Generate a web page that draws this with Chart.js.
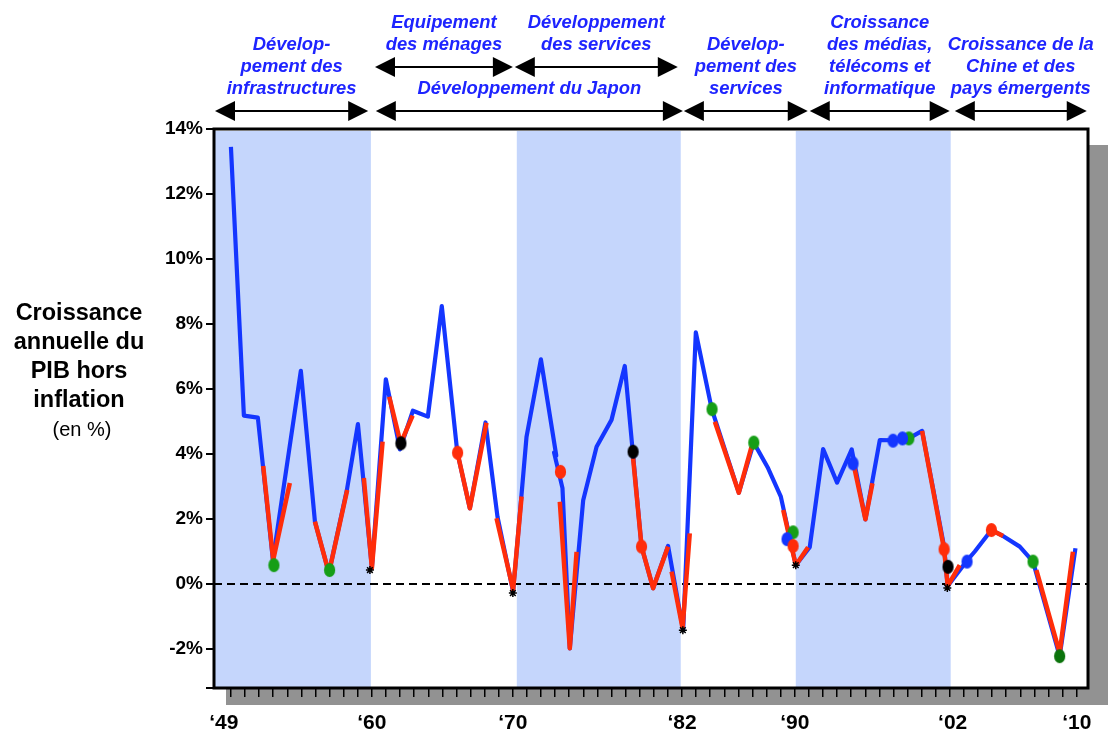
<!DOCTYPE html>
<html>
<head>
<meta charset="utf-8">
<script src="https://cdn.jsdelivr.net/npm/chart.js@4.4.0/dist/chart.umd.min.js"></script>
<style>
  html, body { margin: 0; padding: 0; background: #fff; }
</style>
</head>
<body>
<canvas id="gdpChart" width="1108" height="731"></canvas>
<script>
// ---------------------------------------------------------------------------
// Data (x in years, y in % annual growth)
// ---------------------------------------------------------------------------

// main growth line (blue)
const blueYears = [1950.00, 1950.92, 1951.91, 1952.98, 1954.96, 1955.96, 1956.95, 1958.23, 1959.01, 1960.00,
  1960.99, 1961.99, 1962.91, 1963.97, 1964.96, 1966.06, 1966.95, 1968.06, 1968.91, 1970.02,
  1970.97, 1971.99, 1973.08, 1972.92, 1973.52, 1974.04, 1974.99, 1975.94, 1977.00, 1977.94, 1979.13,
  1979.95, 1981.01, 1982.08, 1982.98, 1984.11, 1986.03, 1987.09, 1988.11, 1989.01, 1990.07,
  1991.06, 1992.01, 1993.00, 1994.04, 1995.01, 1996.03, 1996.97, 1998.09, 1999.03, 2000.57,
  2000.85, 2002.20, 2002.77, 2003.95, 2004.77, 2005.96, 2006.90, 2008.79, 2009.91];
const blueValues = [13.45, 5.18, 5.12, 0.74, 6.56, 1.92, 0.34, 2.90, 4.92, 0.50,
  6.30, 4.14, 5.33, 5.15, 8.55, 4.05, 2.33, 4.97, 2.07, -0.24,
  4.53, 6.91, 3.95, 4.05, 2.95, -1.98, 2.58, 4.22, 5.05, 6.71, 1.15,
  -0.13, 1.17, -1.42, 7.74, 5.38, 2.81, 4.35, 3.56, 2.69, 0.58,
  1.13, 4.15, 3.12, 4.14, 1.99, 4.43, 4.42, 4.48, 4.71, 1.20,
  -0.06, 0.71, 1.00, 1.66, 1.48, 1.15, 0.69, -2.22, 1.10];

// slowdown segments drawn over the line (red), one small array per segment
const redYears = [
  [1952.29, 1953.00, 1954.18], [1955.96, 1956.95, 1958.25], [1959.43, 1960.00, 1960.76],
  [1961.23, 1962.04, 1962.89], [1966.08, 1966.95, 1968.13], [1968.84, 1970.02, 1970.62],
  [1973.33, 1974.04, 1974.52], [1978.53, 1979.13, 1979.95, 1981.01], [1981.26, 1982.04, 1982.55],
  [1984.33, 1986.03, 1986.93], [1989.18, 1990.07, 1990.94], [1994.18, 1995.01, 1995.51],
  [1999.03, 2000.59, 2000.85, 2001.70], [2003.95, 2004.77], [2007.14, 2008.79, 2009.73]];
const redValues = [
  [3.63, 0.74, 3.11], [1.92, 0.34, 2.89], [3.26, 0.49, 4.38],
  [5.76, 4.33, 5.18], [4.02, 2.33, 4.96], [2.02, -0.18, 2.69],
  [2.53, -1.98, 0.99], [3.87, 1.15, -0.13, 1.15], [0.38, -1.36, 1.56],
  [4.99, 2.81, 4.22], [2.28, 0.58, 1.13], [3.66, 1.99, 3.10],
  [4.71, 1.07, -0.06, 0.58], [1.66, 1.48], [0.43, -2.12, 0.99]];

// coloured markers
const greenYears = [1953.05, 1957.00, 1984.13, 1987.09, 1989.88, 1998.09, 2006.90, 2008.79];
const greenValues = [0.58, 0.43, 5.38, 4.35, 1.59, 4.48, 0.69, -2.22];
const blackYears = [1962.06, 1978.53, 2000.87];
const blackValues = [4.33, 4.07, 0.53];
const redDotYears = [1966.08, 1973.38, 1979.13, 1989.88, 2000.59, 2003.95];
const redDotValues = [4.04, 3.45, 1.15, 1.17, 1.07, 1.66];
const blueDotYears = [1989.45, 1994.13, 1996.97, 1997.64, 2002.22];
const blueDotValues = [1.38, 3.71, 4.41, 4.48, 0.69];

// recession troughs (asterisks)
const troughYears = [1959.86, 1970.00, 1982.06, 1990.07, 2000.82];
const troughValues = [0.43, -0.28, -1.42, 0.58, -0.12];

// shaded periods
const bandStart = [1948.8, 1970.28, 1990.07];
const bandEnd = [1959.93, 1981.91, 2001.06];

// axis ticks
const xLabels = ['\u201849', '\u201860', '\u201870', '\u201882', '\u201890', '\u201802', '\u201810'];
const xLabelYears = [1949.5, 1960, 1970, 1982, 1990, 2001.2, 2010];
const tickYears = Array.from({ length: 61 }, (_, i) => 1950 + i);
const xMin = 1948.8;
const xMax = 2010.8;
const yMin = -3.2;
const yMax = 14;

// period annotations above the chart
const periodLabels = [
  ['Dévelop-', 'pement des', 'infrastructures'],
  ['Développement du Japon'],
  ['Dévelop-', 'pement des', 'services'],
  ['Croissance', 'des médias,', 'télécoms et', 'informatique'],
  ['Croissance de la', 'Chine et des', 'pays émergents'],
  ['Equipement', 'des ménages'],
  ['Développement', 'des services']];
const periodFrom = [1948.87, 1960.28, 1982.13, 1991.06, 2001.35, 1960.22, 1970.14];
const periodTo = [1959.74, 1982.06, 1990.92, 2000.99, 2010.71, 1970.0, 1981.7];
const periodRow = [0, 0, 0, 0, 0, 1, 1];

const yTitleLines = ['Croissance', 'annuelle du', 'PIB hors', 'inflation'];
const yTitleUnit = '(en %)';

// ---------------------------------------------------------------------------
// Helpers
// ---------------------------------------------------------------------------
const FONT = '"Liberation Sans", Arial, Helvetica, sans-serif';
const toPoints = (xs, ys) => xs.map((x, i) => ({ x: x, y: ys[i] }));

// oval markers, a little taller than wide
const ovalStyle = (color) => {
  const c = document.createElement('canvas');
  c.width = 13;
  c.height = 16;
  const g = c.getContext('2d');
  g.fillStyle = color;
  g.beginPath();
  g.ellipse(6.5, 8, 5.6, 7, 0, 0, Math.PI * 2);
  g.fill();
  return c;
};

const redPoints = redYears.flatMap((seg, s) => [
  ...seg.map((x, i) => ({ x: x, y: redValues[s][i] })),
  { x: seg[seg.length - 1], y: null }
]);

const greenOval = ovalStyle('#169e16');
const greenDark = ovalStyle('#0b730b');

// ---------------------------------------------------------------------------
// Plugins: backdrop, shaded periods, frame, annotations
// ---------------------------------------------------------------------------
const backdrop = {
  id: 'backdrop',
  beforeDraw(chart) {
    const { ctx, chartArea: a, width, height } = chart;
    ctx.save();
    ctx.fillStyle = '#fff';
    ctx.fillRect(0, 0, width, height);
    // drop shadow of the plot box
    ctx.fillStyle = '#929292';
    ctx.fillRect(a.left + 12, a.top + 16, a.right - a.left + 40, a.bottom - a.top + 1);
    ctx.restore();
  },
  beforeDatasetsDraw(chart) {
    const { ctx, chartArea: a, scales } = chart;
    ctx.save();
    ctx.fillStyle = '#fff';
    ctx.fillRect(a.left, a.top, a.right - a.left, a.bottom - a.top);
    ctx.fillStyle = '#c5d6fc';
    bandStart.forEach((s, i) => {
      const x1 = scales.x.getPixelForValue(s);
      const x2 = scales.x.getPixelForValue(bandEnd[i]);
      ctx.fillRect(x1, a.top + 2, x2 - x1, a.bottom - a.top - 2);
    });
    ctx.restore();
  },
  afterDatasetsDraw(chart) {
    const { ctx, chartArea: a } = chart;
    ctx.save();
    ctx.strokeStyle = '#000';
    ctx.lineWidth = 3;
    ctx.strokeRect(a.left, a.top, a.right - a.left, a.bottom - a.top);
    ctx.restore();
  }
};

const annotations = {
  id: 'annotations',
  afterDraw(chart) {
    const { ctx, scales } = chart;
    const rowY = [111, 67];
    ctx.save();
    periodFrom.forEach((from, i) => {
      const x1 = scales.x.getPixelForValue(from);
      const x2 = scales.x.getPixelForValue(periodTo[i]);
      const y = rowY[periodRow[i]];
      ctx.strokeStyle = '#000';
      ctx.lineWidth = 2;
      ctx.beginPath();
      ctx.moveTo(x1 + 15, y);
      ctx.lineTo(x2 - 15, y);
      ctx.stroke();
      ctx.fillStyle = '#000';
      ctx.beginPath();
      ctx.moveTo(x1, y); ctx.lineTo(x1 + 20, y - 10); ctx.lineTo(x1 + 20, y + 10);
      ctx.closePath();
      ctx.fill();
      ctx.beginPath();
      ctx.moveTo(x2, y); ctx.lineTo(x2 - 20, y - 10); ctx.lineTo(x2 - 20, y + 10);
      ctx.closePath();
      ctx.fill();

      const lines = periodLabels[i];
      const cx = (x1 + x2) / 2;
      ctx.fillStyle = '#1e24ff';
      ctx.font = 'italic bold 18.4px ' + FONT;
      ctx.textAlign = 'center';
      ctx.textBaseline = 'middle';
      lines.forEach((t, j) => ctx.fillText(t, cx, y - 22 * (lines.length - j)));
    });

    // axis title on the left
    ctx.fillStyle = '#000';
    ctx.textAlign = 'center';
    ctx.textBaseline = 'middle';
    ctx.font = 'bold 23.5px ' + FONT;
    yTitleLines.forEach((t, j) => ctx.fillText(t, 79, 314 + 29 * j));
    ctx.font = '20px ' + FONT;
    ctx.fillText(yTitleUnit, 82, 314 + 29 * yTitleLines.length);
    ctx.restore();
  }
};

// ---------------------------------------------------------------------------
// Chart
// ---------------------------------------------------------------------------
const chart = new Chart(document.getElementById('gdpChart').getContext('2d'), {
  type: 'line',
  data: {
    datasets: [
      {
        label: 'zero',
        data: [{ x: xMin, y: 0 }, { x: xMax, y: 0 }],
        borderColor: '#000',
        borderWidth: 2,
        borderDash: [8, 5],
        pointRadius: 0,
        order: 10
      },
      {
        label: 'Croissance',
        data: toPoints(blueYears, blueValues),
        borderColor: '#1436ff',
        borderWidth: 4.2,
        borderJoinStyle: 'round',
        pointRadius: 0,
        order: 9
      },
      {
        label: 'Ralentissement',
        data: redPoints,
        borderColor: '#ff2d0a',
        borderWidth: 4.5,
        borderJoinStyle: 'round',
        spanGaps: false,
        pointRadius: 0,
        order: 8
      },
      {
        label: 'Creux',
        data: toPoints(troughYears, troughValues),
        showLine: false,
        pointStyle: 'star',
        pointRadius: 4,
        borderColor: '#000',
        borderWidth: 1.5,
        order: 7
      },
      {
        label: 'vert',
        data: toPoints(greenYears, greenValues),
        showLine: false,
        pointStyle: greenYears.map((_, i) => i === greenYears.length - 1 ? greenDark : greenOval),
        order: 4
      },
      {
        label: 'bleu',
        data: toPoints(blueDotYears, blueDotValues),
        showLine: false,
        pointStyle: ovalStyle('#1436ff'),
        order: 3
      },
      {
        label: 'rouge',
        data: toPoints(redDotYears, redDotValues),
        showLine: false,
        pointStyle: ovalStyle('#ff2d0a'),
        order: 2
      },
      {
        label: 'noir',
        data: toPoints(blackYears, blackValues),
        showLine: false,
        pointStyle: ovalStyle('#000'),
        order: 1
      }
    ]
  },
  options: {
    responsive: false,
    animation: false,
    events: [],
    layout: { padding: { top: 129, right: 20, left: 0, bottom: 0 } },
    plugins: {
      legend: { display: false },
      tooltip: { enabled: false }
    },
    scales: {
      x: {
        type: 'linear',
        position: 'bottom',
        weight: 1,
        min: xMin,
        max: xMax,
        grid: { display: false, drawTicks: false, tickLength: 0 },
        border: { display: false },
        afterBuildTicks: (scale) => { scale.ticks = xLabelYears.map(v => ({ value: v })); },
        afterFit: (scale) => { scale.height = 33; },
        ticks: {
          autoSkip: false,
          maxRotation: 0,
          padding: 13,
          color: '#000',
          font: { family: FONT, size: 21, weight: 'bold' },
          callback: (value, index) => xLabels[index]
        }
      },
      yearTicks: {
        type: 'linear',
        position: 'bottom',
        weight: 0,
        min: xMin,
        max: xMax,
        grid: { drawOnChartArea: false, tickLength: 9, color: '#000', lineWidth: 1.5 },
        border: { display: false },
        afterBuildTicks: (scale) => { scale.ticks = tickYears.map(v => ({ value: v })); },
        afterFit: (scale) => { scale.height = 10; },
        ticks: { display: false, autoSkip: false }
      },
      y: {
        min: yMin,
        max: yMax,
        grid: { drawOnChartArea: false, tickLength: 8, color: '#000', lineWidth: 2 },
        border: { display: false },
        afterFit: (scale) => { scale.width = 214; },
        ticks: {
          stepSize: 2,
          padding: 3,
          color: '#000',
          font: { family: FONT, size: 19, weight: 'bold' },
          callback: (value) => (Math.abs(value % 2) < 1e-9 ? value + '%' : '')
        }
      }
    }
  },
  plugins: [backdrop, annotations]
});
</script>
</body>
</html>
